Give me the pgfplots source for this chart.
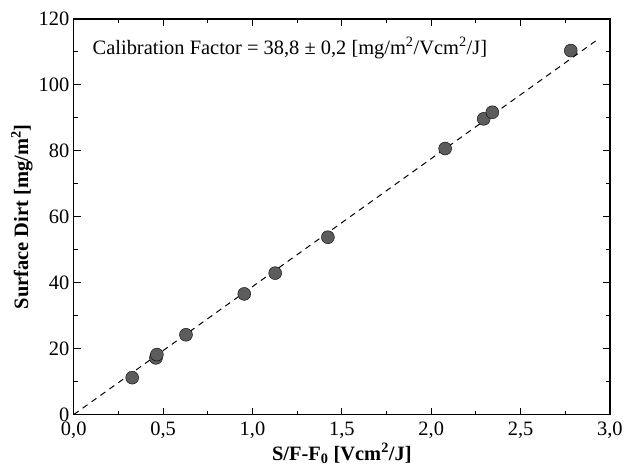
\documentclass[border=0pt]{standalone}
\usepackage{fontspec}
\setmainfont{Liberation Serif}
\usepackage{pgfplots}
\pgfplotsset{compat=1.18}
\begin{document}
\begin{tikzpicture}
  \begin{axis}[
      scale only axis,
      width=538pt,
      height=397pt,
      xmin=0, xmax=3,
      ymin=0, ymax=120,
      xtick={0,0.5,...,3},
      ytick={0,20,...,120},
      minor x tick num=1,
      minor y tick num=1,
      tick align=inside,
      tick pos=both,
      major tick length=7pt,
      minor tick length=4pt,
      axis line style={line width=1.2pt},
      every tick/.style={black, line width=1pt},
      /pgf/number format/assume math mode=true,
      /pgf/number format/use comma,
      xticklabel style={/pgf/number format/fixed, /pgf/number format/precision=1,
        /pgf/number format/fixed zerofill, yshift=-3.5pt},
      yticklabel style={xshift=-1pt},
      ticklabel style={font=\fontsize{20.5}{24}\selectfont},
      xlabel={\textbf{S/F-F\textsubscript{0} [Vcm\textsuperscript{2}/J]}},
      ylabel={\textbf{Surface Dirt [mg/m\textsuperscript{2}]}},
      label style={font=\fontsize{20.5}{24}\selectfont},
      xlabel style={at={(axis description cs:0.5,0)}, anchor=center, yshift=-39pt},
      ylabel style={at={(axis description cs:0,0.5)}, anchor=center, yshift=52pt},
      clip=false
    ]
    % fit line, slope 38.8
    \addplot[black, line width=1pt, dash pattern=on 6pt off 5pt] coordinates {
      (0, 0)
      (2.93, 113.7)};
    % measured points
    \addplot[only marks, mark=*, mark size=6.5pt, draw=none,
      mark options={fill=black!64, draw=none}] coordinates {
      (0.327, 11.2)
      (0.460, 17.2)
      (0.465, 18.2)
      (0.628, 24.2)
      (0.954, 36.6)
      (1.127, 42.9)
      (1.422, 53.8)
      (2.078, 80.7)
      (2.294, 89.7)
      (2.342, 91.7)
      (2.781, 110.4)};
    \node[anchor=west, font=\fontsize{20.5}{24}\selectfont, inner sep=0pt]
      at (axis cs:0.105,111.2)
      {Calibration Factor = 38,8 ± 0,2 [mg/m\textsuperscript{2}/Vcm\textsuperscript{2}/J]};
    % page margins as in the reference
    \path (rel axis cs:0,1) ++(-74pt,19pt);
    \path (rel axis cs:1,0) ++(14pt,-59pt);
  \end{axis}
\end{tikzpicture}
\end{document}
